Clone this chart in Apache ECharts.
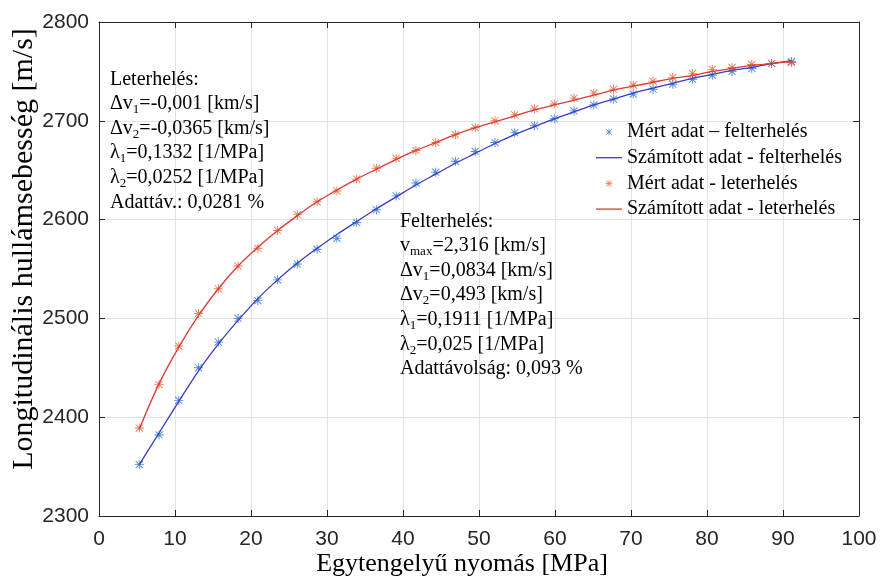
<!DOCTYPE html>
<html>
<head>
<meta charset="utf-8">
<script src="https://cdn.jsdelivr.net/npm/echarts@6/dist/echarts.min.js"></script>
<style>
  html, body { margin: 0; padding: 0; background: #fff; }
  #chart { width: 880px; height: 579px; }
</style>
</head>
<body>
<div id="chart"></div>
<script>
// nyomás [MPa]
var pressure = [5.3, 7.9, 10.5, 13.1, 15.7, 18.3, 20.9, 23.5, 26.1, 28.7, 31.3, 33.9,
  36.5, 39.1, 41.7, 44.3, 46.9, 49.5, 52.1, 54.7, 57.3, 59.9, 62.5, 65.1, 67.7,
  70.3, 72.9, 75.5, 78.1, 80.7, 83.3, 85.9, 88.5, 91.1];

// mért adat – felterhelés
var upMeasured = [2352, 2382, 2417, 2450, 2476, 2500, 2518, 2539, 2555, 2570, 2581, 2597,
  2610, 2624, 2637, 2648, 2659, 2669, 2678, 2688, 2695, 2702, 2710, 2716, 2722,
  2727, 2732, 2737, 2742, 2746, 2750, 2753, 2758, 2760];

// számított adat – felterhelés
var upFitted = [2352, 2384, 2416, 2447, 2474, 2498, 2520, 2539, 2556, 2571, 2585, 2598,
  2611, 2623, 2635, 2646, 2657, 2667, 2677, 2686, 2694, 2702, 2709, 2716, 2722,
  2728, 2733, 2738, 2743, 2747, 2751, 2754, 2758, 2761];

// mért adat – leterhelés
var downMeasured = [2389, 2433, 2472, 2505, 2530, 2553, 2571, 2589, 2605, 2618, 2629, 2641,
  2652, 2662, 2670, 2678, 2686, 2693, 2700, 2706, 2712, 2717, 2723, 2728, 2732,
  2736, 2740, 2744, 2748, 2752, 2754, 2757, 2758, 2759];

// számított adat – leterhelés
var downFitted = [2388, 2434, 2471, 2503, 2530, 2553, 2572, 2589, 2604, 2618, 2630, 2641,
  2651, 2661, 2670, 2678, 2686, 2693, 2699, 2705, 2711, 2716, 2721, 2726, 2731,
  2735, 2739, 2743, 2746, 2750, 2753, 2756, 2758, 2760];

var seriesNames = ['Mért adat – felterhelés', 'Számított adat - felterhelés',
  'Mért adat - leterhelés', 'Számított adat - leterhelés'];

function pairs(xs, ys) {
  return xs.map(function (x, i) { return [x, ys[i]]; });
}

// csillag (asterisk) marker
var star = 'path://M4.5,0L5.5,0L5.5,10L4.5,10Z M0,4.5L10,4.5L10,5.5L0,5.5Z ' +
  'M0.7,1.4L1.4,0.7L9.3,8.6L8.6,9.3Z M8.6,0.7L9.3,1.4L1.4,9.3L0.7,8.6Z';
var lineIcon = 'path://M0,0H26V1.3H0Z';

var serif = 'Liberation Serif';
var sans = 'Liberation Sans';
var axisColor = '#262626';

var chart = echarts.init(document.getElementById('chart'));

var option = {
  animation: false,
  backgroundColor: '#fff',
  grid: { left: 99, right: 21, top: 22, bottom: 63, outerBoundsMode: 'none', containLabel: false },
  legend: {
    orient: 'vertical',
    left: 596,
    top: 122,
    padding: 0,
    itemGap: 5.7,
    itemWidth: 26,
    itemHeight: 7,
    textStyle: { fontFamily: serif, fontSize: 20, lineHeight: 20, color: '#000' },
    data: [
      { name: seriesNames[0], icon: star },
      { name: seriesNames[1], icon: lineIcon },
      { name: seriesNames[2], icon: star },
      { name: seriesNames[3], icon: lineIcon }
    ]
  },
  xAxis: [
    {
      type: 'value', min: 0, max: 100, interval: 10, position: 'bottom',
      name: 'Egytengelyű nyomás [MPa]', nameLocation: 'middle', nameGap: 35,
      nameMoveOverlap: false,
      nameTextStyle: { fontFamily: serif, fontSize: 26, color: '#000', padding: [0, 34, 0, 0] },
      axisLine: { show: true, onZero: false, lineStyle: { color: axisColor } },
      axisTick: { show: true, inside: true, length: 6, lineStyle: { color: axisColor } },
      axisLabel: { fontFamily: sans, fontSize: 21, color: axisColor, margin: 13 },
      splitLine: { show: true, lineStyle: { color: '#e2e2e2' } }
    },
    {
      type: 'value', min: 0, max: 100, interval: 10, position: 'top',
      axisLine: { show: true, onZero: false, lineStyle: { color: axisColor } },
      axisTick: { show: true, inside: true, length: 6, lineStyle: { color: axisColor } },
      axisLabel: { show: false },
      splitLine: { show: false }
    }
  ],
  yAxis: [
    {
      type: 'value', min: 2300, max: 2800, interval: 100, position: 'left',
      name: 'Longitudinális hullámsebesség [m/s]', nameLocation: 'middle', nameGap: 60,
      nameMoveOverlap: false,
      nameTextStyle: { fontFamily: serif, fontSize: 30, color: '#000', padding: [0, 0, 0, 40] },
      axisLine: { show: true, onZero: false, lineStyle: { color: axisColor } },
      axisTick: { show: true, inside: true, length: 6, lineStyle: { color: axisColor } },
      axisLabel: {
        fontFamily: sans, fontSize: 21, color: axisColor, margin: 10,
        formatter: function (v) { return String(v); }
      },
      splitLine: { show: true, lineStyle: { color: '#e2e2e2' } }
    },
    {
      type: 'value', min: 2300, max: 2800, interval: 100, position: 'right',
      axisLine: { show: true, onZero: false, lineStyle: { color: axisColor } },
      axisTick: { show: true, inside: true, length: 6, lineStyle: { color: axisColor } },
      axisLabel: { show: false },
      splitLine: { show: false }
    }
  ],
  series: [
    {
      name: seriesNames[0], type: 'scatter', symbol: star, symbolSize: 9,
      itemStyle: { color: '#1f6fc6' },
      data: pairs(pressure, upMeasured)
    },
    {
      name: seriesNames[1], type: 'line', smooth: 0.3, showSymbol: false,
      itemStyle: { color: '#3a3acb' },
      lineStyle: { color: '#3a3acb', width: 1.3 },
      data: pairs(pressure, upFitted)
    },
    {
      name: seriesNames[2], type: 'scatter', symbol: star, symbolSize: 9,
      itemStyle: { color: '#e25a2c' },
      data: pairs(pressure, downMeasured)
    },
    {
      name: seriesNames[3], type: 'line', smooth: 0.3, showSymbol: false,
      itemStyle: { color: '#df3a32' },
      lineStyle: { color: '#df3a32', width: 1.3 },
      data: pairs(pressure, downFitted)
    }
  ],
  graphic: [
    {
      type: 'text', left: 110, top: 67, z: 100,
      style: {
        text: 'Leterhelés:\n' +
          'Δv{s|1}=-0,001 [km/s]\n' +
          'Δv{s|2}=-0,0365 [km/s]\n' +
          'λ{s|1}=0,1332 [1/MPa]\n' +
          'λ{s|2}=0,0252 [1/MPa]\n' +
          'Adattáv.: 0,0281 %',
        fontFamily: serif, fontSize: 20, lineHeight: 24.6, fill: '#000',
        rich: { s: { fontFamily: serif, fontSize: 13, lineHeight: 14, verticalAlign: 'bottom' } }
      }
    },
    {
      type: 'text', left: 400, top: 209, z: 100,
      style: {
        text: 'Felterhelés:\n' +
          'v{s|max}=2,316 [km/s]\n' +
          'Δv{s|1}=0,0834 [km/s]\n' +
          'Δv{s|2}=0,493 [km/s]\n' +
          'λ{s|1}=0,1911 [1/MPa]\n' +
          'λ{s|2}=0,025 [1/MPa]\n' +
          'Adattávolság: 0,093 %',
        fontFamily: serif, fontSize: 20, lineHeight: 24.6, fill: '#000',
        rich: { s: { fontFamily: serif, fontSize: 13, lineHeight: 14, verticalAlign: 'bottom' } }
      }
    }
  ]
};

chart.setOption(option);
</script>
</body>
</html>
